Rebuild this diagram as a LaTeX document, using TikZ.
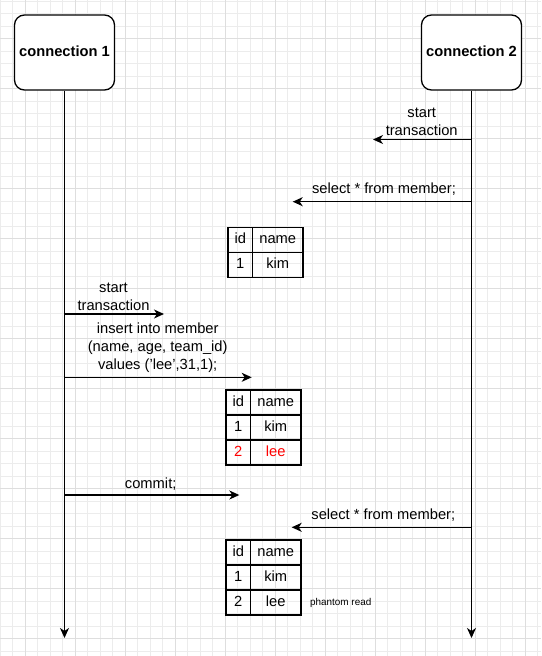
\documentclass[tikz,border=0pt]{standalone}
\usepackage{fontspec}
\setmainfont{Liberation Sans}
\usetikzlibrary{arrows.meta}
\definecolor{gridlight}{RGB}{236,236,236}
\definecolor{griddark}{RGB}{222,222,222}
\definecolor{hlred}{RGB}{255,0,0}
\begin{document}
\begin{tikzpicture}[x=1pt,y=-1pt,
  lbl/.style={font=\fontsize{14.7}{18.5}\selectfont, inner sep=0pt, align=center, anchor=base},
  titlebox/.style={draw, line width=1.3pt, rounded corners=10pt, fill=white,
    minimum width=100pt, minimum height=75pt, inner sep=0pt,
    text height=10.6pt, text depth=3.1pt,
    font=\fontsize{14.7}{18}\selectfont\bfseries},
  arr/.style={line width=1.3pt, -{Stealth[length=10pt,width=9pt,inset=3pt]}},
  cell/.style={draw, line width=1.3pt, minimum height=25pt, inner sep=0pt, outer sep=0pt,
    anchor=north west, text height=10.6pt, text depth=3.1pt,
    font=\fontsize{14.7}{18}\selectfont},
  idc/.style={cell, minimum width=24.5pt},
  namec/.style={cell, minimum width=50.5pt},
  red/.style={text=hlred}
]
\useasboundingbox (0,0) rectangle (541,656);
\fill[white] (0,0) rectangle (541,656);
% grid
\foreach \i in {0,...,43} { \draw[gridlight, line width=0.8pt] (\i*12.5,0) -- (\i*12.5,656); }
\foreach \i in {0,...,52} { \draw[gridlight, line width=0.8pt] (0,1+\i*12.5) -- (541,1+\i*12.5); }
\foreach \x in {25,75,...,525} { \draw[griddark, line width=0.8pt] (\x,0) -- (\x,656); }
\foreach \y in {38.5,88.5,...,638.5} { \draw[griddark, line width=0.8pt] (0,\y) -- (541,\y); }

% participants
\node[titlebox] (c1) at (64.5,52.5) {connection 1};
\node[titlebox] (c2) at (471.5,52.5) {connection 2};
\coordinate (e1) at (64.5,638);
\coordinate (e2) at (471.5,638);
\draw[arr] (c1.south) -- (e1);
\draw[arr] (c2.south) -- (e2);

% messages
\coordinate (m1s) at (471.5,139.5); \coordinate (m1e) at (373,139.5);
\draw[arr] (m1s) -- (m1e);
\node[lbl] (t1) at (421.7,135.5) {start\\transaction};

\coordinate (m2s) at (471.5,201.7); \coordinate (m2e) at (292.7,201.7);
\draw[arr] (m2s) -- (m2e);
\node[lbl] (t2) at (384,193.5) {select * from member;};

\coordinate (m3s) at (64.5,314); \coordinate (m3e) at (164,314);
\draw[arr] (m3s) -- (m3e);
\node[lbl] (t3) at (113.5,310.5) {start\\transaction};

\coordinate (m4s) at (64.5,377.3); \coordinate (m4e) at (251.7,377.3);
\draw[arr] (m4s) -- (m4e);
\node[lbl, font=\fontsize{14.7}{18}\selectfont] (t4) at (157.7,369.3) {insert into member\\(name, age, team\_id)\\values ('lee',31,1);};

\coordinate (m5s) at (64.5,495); \coordinate (m5e) at (239.3,495);
\draw[arr] (m5s) -- (m5e);
\node[lbl] (t5) at (150.7,488.5) {commit;};

\coordinate (m6s) at (471.5,527.3); \coordinate (m6e) at (291.7,527.3);
\draw[arr] (m6s) -- (m6e);
\node[lbl] (t6) at (383.3,519) {select * from member;};

% table 1
\node[idc] (a11) at (228,227.5) {id};
\node[namec] (a12) at (252.5,227.5) {name};
\node[idc] (a21) at (228,252.5) {1};
\node[namec] (a22) at (252.5,252.5) {kim};

% table 2
\node[idc] (b11) at (226,390) {id};
\node[namec] (b12) at (250.5,390) {name};
\node[idc] (b21) at (226,415) {1};
\node[namec] (b22) at (250.5,415) {kim};
\node[idc, red] (b31) at (226,440) {2};
\node[namec, red] (b32) at (250.5,440) {lee};

% table 3
\node[idc] (d11) at (226,540) {id};
\node[namec] (d12) at (250.5,540) {name};
\node[idc] (d21) at (226,565) {1};
\node[namec] (d22) at (250.5,565) {kim};
\node[idc] (d31) at (226,590) {2};
\node[namec] (d32) at (250.5,590) {lee};

\node[font=\fontsize{9.9}{12}\selectfont, inner sep=0pt, anchor=base west] (pr) at (310,605) {phantom read};
\end{tikzpicture}
\end{document}
